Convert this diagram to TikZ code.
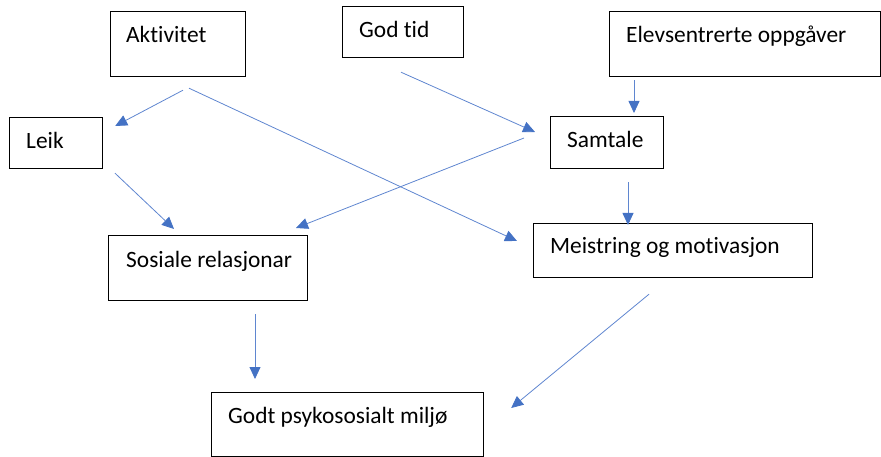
\documentclass[tikz,border=0pt]{standalone}
\usepackage{fontspec}
\setmainfont{Carlito}[Ligatures=NoCommon,RawFeature=-liga]
\usetikzlibrary{arrows.meta,calc}
\definecolor{arrowblue}{HTML}{4472C4}
\definecolor{lineblue}{HTML}{5F86D0}
\tikzset{
  box/.style={draw=black, line width=1.2pt, rectangle, inner sep=0pt, anchor=north west},
  lbl/.style={anchor=base west, inner sep=0pt, font=\fontsize{23.4}{28}\selectfont, text=black},
  conn/.style={draw=lineblue, line width=0.8pt, -{Triangle[length=12pt,width=11pt,color=arrowblue,fill=arrowblue]}}
}
\begin{document}
\begin{tikzpicture}[x=1pt,y=-1pt]
\useasboundingbox (0,0) rectangle (881,457);
% boxes
\node[box, minimum width=135pt, minimum height=65pt] (akt) at (110,11) {};
\node[box, minimum width=121pt, minimum height=51pt] (god) at (342,6) {};
\node[box, minimum width=271pt, minimum height=65pt] (elev) at (609,11) {};
\node[box, minimum width=93pt, minimum height=51pt] (leik) at (9,117) {};
\node[box, minimum width=113pt, minimum height=52pt] (sam) at (550,116) {};
\node[box, minimum width=199pt, minimum height=65pt] (sos) at (108,235) {};
\node[box, minimum width=279pt, minimum height=54pt] (mei) at (533,223) {};
\node[box, minimum width=272pt, minimum height=64pt] (godt) at (211,392) {};
% texts
\node[lbl] (aktT) at ($(akt.north west)+(16,32)$) {Aktivitet};
\node[lbl] (godT) at ($(god.north west)+(17,32)$) {God tid};
\node[lbl] (elevT) at ($(elev.north west)+(17,32)$) {Elevsentrerte oppgåver};
\node[lbl] (leikT) at ($(leik.north west)+(17,32)$) {Leik};
\node[lbl] (samT) at ($(sam.north west)+(17,32)$) {Samtale};
\node[lbl] (sosT) at ($(sos.north west)+(18,32)$) {Sosiale relasjonar};
\node[lbl] (meiT) at ($(mei.north west)+(17,31)$) {Meistring og motivasjon};
\node[lbl] (godtT) at ($(godt.north west)+(17,31)$) {Godt psykososialt miljø};
% connectors
\draw[conn] ($(akt.south west)+(73,13)$) -- ($(leik.north east)+(12,9)$);
\draw[conn] ($(akt.south west)+(79,11)$) -- ($(mei.north west)+(-16,18)$);
\draw[conn] ($(god.south west)+(59,14)$) -- ($(sam.north west)+(-15,16)$);
\draw[conn] ($(elev.south west)+(25,3)$) -- ($(sam.north west)+(84,-3)$);
\draw[conn] ($(sam.north west)+(-26,22)$) -- ($(sos.north west)+(188,-7)$);
\draw[conn] ($(leik.south west)+(106,4)$) -- ($(sos.north west)+(66,-6)$);
\draw[conn] ($(sam.south west)+(78,13)$) -- ($(mei.north west)+(95,2)$);
\draw[conn] ($(sos.south west)+(147,13)$) -- ($(godt.north west)+(44,-13)$);
\draw[conn] ($(mei.south west)+(116,16)$) -- ($(godt.north east)+(27,16)$);
\end{tikzpicture}
\end{document}
